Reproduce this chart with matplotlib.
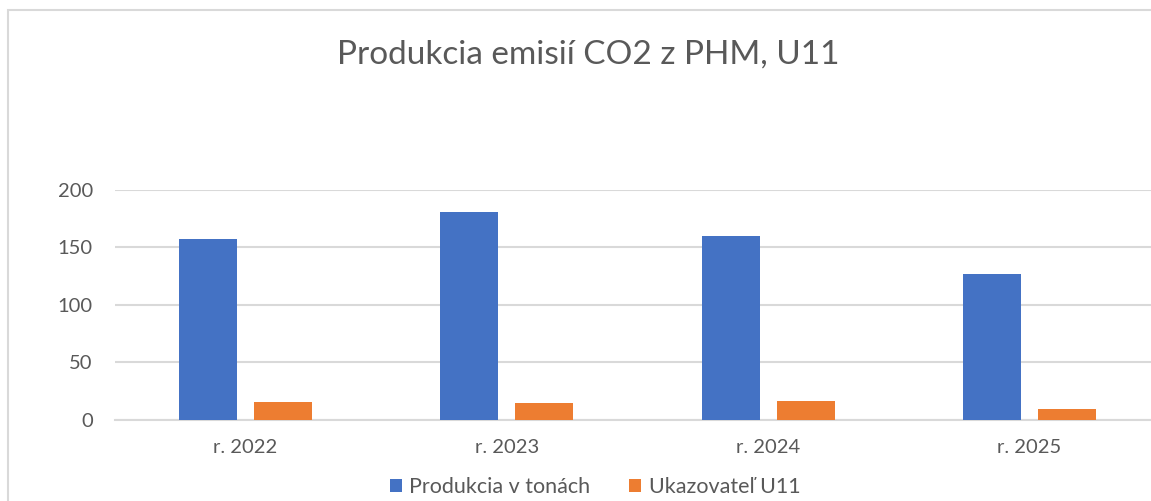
import matplotlib.pyplot as plt
import numpy as np
from matplotlib.patches import Rectangle

plt.rcParams['font.family'] = ['Lato', 'DejaVu Sans']

# data
years = ['r. 2022', 'r. 2023', 'r. 2024', 'r. 2025']
produkcia = [157.4, 181.2, 159.7, 127.2]
ukazovatel = [15.6, 15.1, 16.8, 9.9]
series_names = ['Produkcia v tonách', 'Ukazovateľ U11']

blue = '#4472C4'
orange = '#ED7D31'
text_gray = '#595959'
grid_gray = '#D9D9D9'

fig = plt.figure(figsize=(11.51, 5.01), dpi=100)
# plot area runs slightly past the right edge (cropped screenshot)
ax = fig.add_axes([0.0999, 0.1617, 0.908, 0.4591])

x = np.arange(len(years))
w = 0.222
off = 0.1435
ax.bar(x - off, produkcia, w, color=blue, label=series_names[0], zorder=3)
ax.bar(x + off, ukazovatel, w, color=orange, label=series_names[1], zorder=3)

ax.set_xlim(-0.5, len(years) - 0.5)
ax.set_ylim(0, 200)
ax.set_yticks([0, 50, 100, 150, 200])
ax.set_xticks(x)
ax.set_xticklabels(years)
ax.grid(axis='y', color=grid_gray, linewidth=1.5, zorder=0)
ax.tick_params(axis='both', length=0, labelsize=14.5, colors=text_gray)
ax.tick_params(axis='x', pad=14)
ax.tick_params(axis='y', pad=16)
for s in ['top', 'right', 'left']:
    ax.spines[s].set_visible(False)
ax.spines['bottom'].set_color(grid_gray)
ax.spines['bottom'].set_linewidth(1.5)

fig.text(0.511, 0.892, 'Produkcia emisií CO2 z PHM, U11', ha='center', va='center',
         fontsize=24, color=text_gray)

fig.legend(loc='center', bbox_to_anchor=(0.517, 0.028), ncol=2, frameon=False,
           fontsize=15.5, labelcolor=text_gray, handlelength=0.55, handleheight=0.55,
           handletextpad=0.35, columnspacing=1.8)

# chart border
fig.patches.append(Rectangle((8 / 1151, -0.1), 1.2, (501 - 10) / 501 + 0.1,
                             transform=fig.transFigure, fill=False,
                             edgecolor='#D9D9D9', linewidth=1.5))

fig.savefig('out.png', dpi=100)
